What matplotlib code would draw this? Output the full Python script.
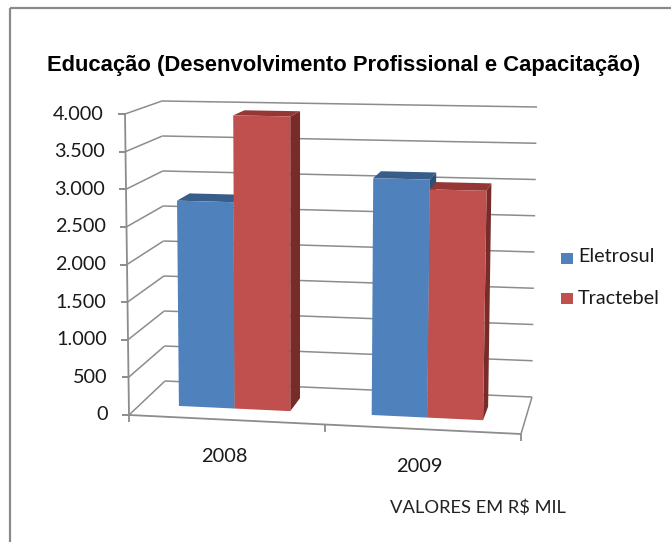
import matplotlib
matplotlib.use("Agg")
import matplotlib.pyplot as plt
from matplotlib.patches import Polygon, Rectangle

# Data
anos = ["2008", "2009"]
eletrosul = [2780, 3150]
tractebel = [3950, 3020]
y_ticks = [0, 500, 1000, 1500, 2000, 2500, 3000, 3500, 4000]
y_labels = ["0", "500", "1.000", "1.500", "2.000", "2.500", "3.000", "3.500", "4.000"]
titulo = "Educação (Desenvolvimento Profissional e Capacitação)"
nota = "VALORES EM R$ MIL"

AZUL = ["#4F81BD", "#385D8A", "#2F4F75"]
VERM = ["#C0504D", "#953735", "#772C2A"]
GRADE = "#8C8C8C"
LATO = "Lato"

# Corners of the 3D plot box in pixels
FBL, FBR = (129, 415), (521, 434)
BBL, BBR = (165, 381), (532, 397)
FTL, FTR = (125, 114), (527, 122)
BTL, BTR = (162, 101), (537, 107)


def lerp(a, b, t):
    return (a[0] + (b[0] - a[0]) * t, a[1] + (b[1] - a[1]) * t)


# u: along the categories 0..1, d: depth 0..1, v: value
def proj(u, d, v):
    bottom = lerp(lerp(FBL, FBR, u), lerp(BBL, BBR, u), d)
    top = lerp(lerp(FTL, FTR, u), lerp(BTL, BTR, u), d)
    return lerp(bottom, top, v / 4000)


fig = plt.figure(figsize=(6.71, 5.42), dpi=100)
ax = fig.add_axes([0, 0, 1, 1])
ax.set_xlim(0, 671)
ax.set_ylim(542, 0)
ax.axis("off")

# outer frame of the chart
ax.add_patch(Rectangle((10, 8), 700, 600, fill=False, ec="#8A8A8A", lw=1.6))


def linha(a, b, lw=1.1):
    ax.plot([a[0], b[0]], [a[1], b[1]], color=GRADE, lw=lw, solid_capstyle="butt", zorder=2)


# Gridlines on the walls and floor
for v in y_ticks:
    linha(proj(0, 0, v), proj(0, 1, v))
    linha(proj(0, 1, v), proj(1, 1, v))
    x, y = proj(0, 0, v)
    linha((x - 7, y), (x, y), lw=1.4)
linha(proj(0, 0, 0), proj(0, 0, 4000), lw=1.3)
linha(proj(0, 0, 0), proj(1, 0, 0), lw=1.3)
linha(proj(1, 0, 0), proj(1, 1, 0))
for u in [0, 0.5, 1]:
    x, y = proj(u, 0, 0)
    linha((x, y), (x, y + 7), lw=1.3)


def barra(u0, u1, valor, cores):
    d0, d1 = 0.32, 0.69
    frente = [proj(u0, d0, 0), proj(u1, d0, 0), proj(u1, d0, valor), proj(u0, d0, valor)]
    topo = [proj(u0, d0, valor), proj(u1, d0, valor), proj(u1, d1, valor), proj(u0, d1, valor)]
    lado = [proj(u1, d0, 0), proj(u1, d1, 0), proj(u1, d1, valor), proj(u1, d0, valor)]
    ax.add_patch(Polygon(lado, fc=cores[2], ec="none", zorder=3))
    ax.add_patch(Polygon(topo, fc=cores[1], ec="none", zorder=3))
    ax.add_patch(Polygon(frente, fc=cores[0], ec="none", zorder=3))


centros = [0.245, 0.747]
larg = 0.145
for i in range(len(anos)):
    barra(centros[i] - larg, centros[i], eletrosul[i], AZUL)
    barra(centros[i], centros[i] + larg, tractebel[i], VERM)

# Text
ax.text(47, 65, titulo, family="Liberation Sans", weight="bold", fontsize=15.8,
        ha="left", va="center", color="black")
for v, lab in zip(y_ticks, y_labels):
    x, y = proj(0, 0, v)
    ax.text(x - 21, y, lab, family=LATO, fontsize=14.3, ha="right", va="center", color="#1A1A1A")
ax.text(224.5, 456, anos[0], family=LATO, fontsize=14.4, ha="center", va="center", color="#1A1A1A")
ax.text(419.5, 466, anos[1], family=LATO, fontsize=14.4, ha="center", va="center", color="#1A1A1A")
ax.text(478, 508, nota, family=LATO, fontsize=13.2, ha="center", va="center", color="#222222")

# Legend
ax.add_patch(Rectangle((561, 253), 12, 11, fc=AZUL[0], ec="none"))
ax.add_patch(Rectangle((561, 293), 12, 11, fc=VERM[0], ec="none"))
ax.text(578, 257, "Eletrosul", family=LATO, fontsize=14.2, ha="left", va="center", color="#1A1A1A")
ax.text(578, 298, "Tractebel", family=LATO, fontsize=14.2, ha="left", va="center", color="#1A1A1A")

fig.savefig("out.png", dpi=100)
